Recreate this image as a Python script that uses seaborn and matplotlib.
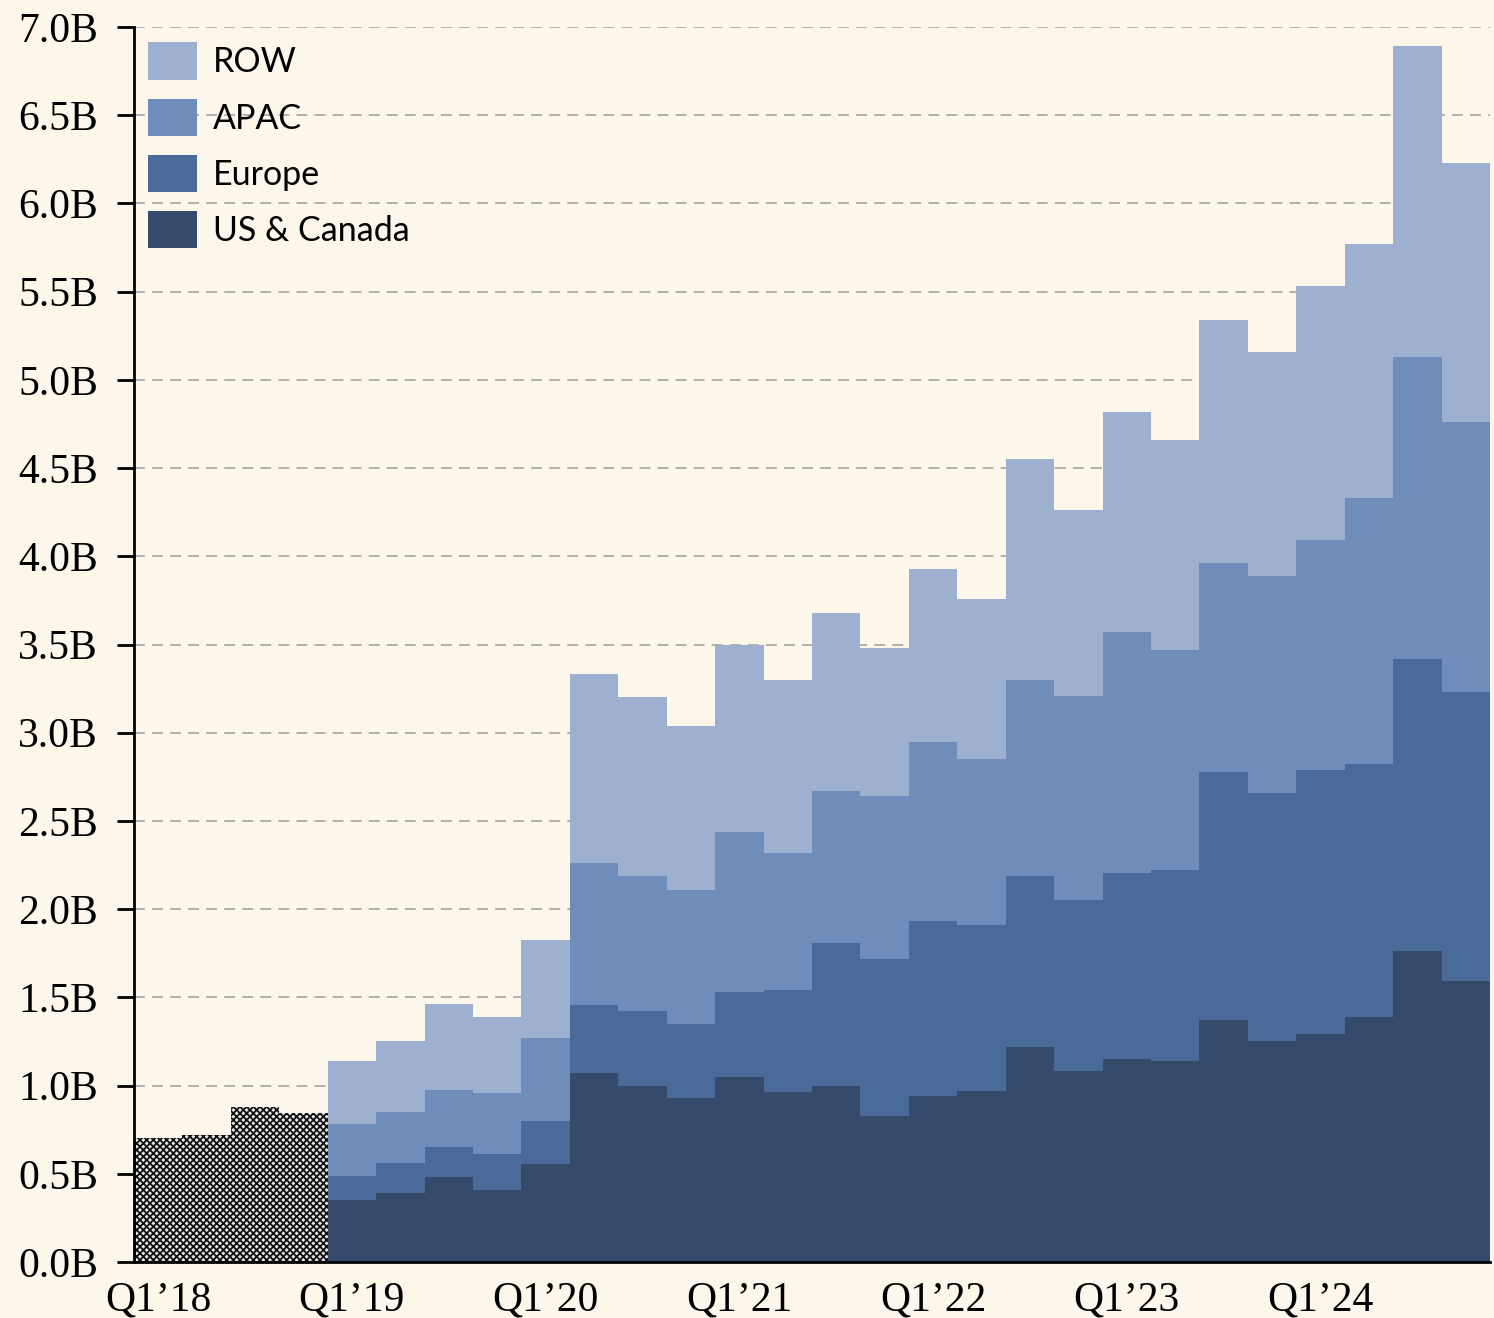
import numpy as np
import pandas as pd
import seaborn as sns
import matplotlib.pyplot as plt
from matplotlib.patches import Patch

# quarters Q1'18 .. Q4'24
quarters = [f"Q{q}\u2019{y}" for y in range(18, 25) for q in range(1, 5)]

# 2018: only total revenue known (USD billions)
total_2018 = [0.70, 0.72, 0.88, 0.845]

# 2019 onwards, cumulative tops
us_canada = [0.35, 0.39, 0.48, 0.41, 0.555, 1.07, 1.00, 0.93, 1.05, 0.965, 1.00, 0.83,
             0.94, 0.97, 1.22, 1.08, 1.15, 1.14, 1.37, 1.25, 1.29, 1.39, 1.76, 1.59]
europe_top = [0.49, 0.56, 0.65, 0.61, 0.80, 1.457, 1.42, 1.35, 1.53, 1.54, 1.81, 1.72,
              1.93, 1.91, 2.19, 2.05, 2.205, 2.22, 2.78, 2.66, 2.79, 2.82, 3.42, 3.23]
apac_top = [0.78, 0.85, 0.975, 0.96, 1.27, 2.26, 2.19, 2.11, 2.44, 2.32, 2.67, 2.64,
            2.95, 2.85, 3.30, 3.21, 3.57, 3.47, 3.96, 3.89, 4.09, 4.33, 5.13, 4.76]
row_top = [1.14, 1.25, 1.46, 1.39, 1.825, 3.33, 3.20, 3.04, 3.50, 3.30, 3.68, 3.48,
           3.93, 3.76, 4.55, 4.26, 4.82, 4.66, 5.34, 5.16, 5.53, 5.77, 6.89, 6.23]

regions = ["US & Canada", "Europe", "APAC", "ROW"]
colors = {"US & Canada": "#364a6b", "Europe": "#4a6a9a", "APAC": "#6e8dba", "ROW": "#9db0cf"}
bg = "#fcf6eb"

# per-region values from the cumulative tops
europe = np.array(europe_top) - np.array(us_canada)
apac = np.array(apac_top) - np.array(europe_top)
row = np.array(row_top) - np.array(apac_top)

idx = np.arange(4, 28)
df = pd.concat([
    pd.DataFrame({"q": idx, "region": "US & Canada", "rev": us_canada}),
    pd.DataFrame({"q": idx, "region": "Europe", "rev": europe}),
    pd.DataFrame({"q": idx, "region": "APAC", "rev": apac}),
    pd.DataFrame({"q": idx, "region": "ROW", "rev": row}),
])
df18 = pd.DataFrame({"q": np.arange(4), "rev": total_2018})

plt.rcParams['font.family'] = ['Liberation Serif', 'DejaVu Serif']
plt.rcParams['hatch.linewidth'] = 1.3

fig = plt.figure(figsize=(14.94, 13.18), dpi=100, facecolor=bg)
ax = fig.add_axes([0.0897, 0.0425, 0.9076, 0.937])
ax.set_facecolor(bg)

sns.histplot(data=df, x="q", weights="rev", hue="region", hue_order=regions[::-1],
             multiple="stack", discrete=True, element="bars", palette=colors,
             alpha=1, linewidth=0, legend=False, ax=ax, zorder=2)

# 2018 totals, checkered
sns.histplot(data=df18, x="q", weights="rev", discrete=True, element="bars",
             color="#e6e6e6", edgecolor="#111111", hatch="xxxxx", alpha=1,
             linewidth=0, ax=ax, zorder=2)

ax.set_xlim(-0.5, 27.5)
ax.set_ylim(0, 7.0)
ax.set_xticks(range(0, 28, 4))
ax.set_xticklabels(quarters[::4])
yt = np.arange(0, 7.01, 0.5)
ax.set_yticks(yt)
ax.set_yticklabels([f"{v:.1f}B" for v in yt])
ax.tick_params(axis='y', length=12, width=2, labelsize=30, pad=14)
ax.tick_params(axis='x', length=0, labelsize=30, pad=14)
ax.set_xlabel("")
ax.set_ylabel("")

ax.yaxis.grid(True, color="#aaaaaa", linestyle=(0, (6, 4)), linewidth=1.3, zorder=0)
ax.set_axisbelow(True)
for s in ["top", "right"]:
    ax.spines[s].set_visible(False)
ax.spines["left"].set_linewidth(2)
ax.spines["bottom"].set_linewidth(2)

handles = [Patch(facecolor=colors[r], edgecolor="none") for r in regions[::-1]]
ax.legend(handles, regions[::-1], loc="upper left", bbox_to_anchor=(0.0103, 0.9875),
          frameon=False, prop={"family": "Lato", "size": 24.5}, borderpad=0, borderaxespad=0,
          handlelength=1.45, handleheight=1.3, labelspacing=0.56, handletextpad=0.45)

fig.savefig("out.png", dpi=100, facecolor=bg)
